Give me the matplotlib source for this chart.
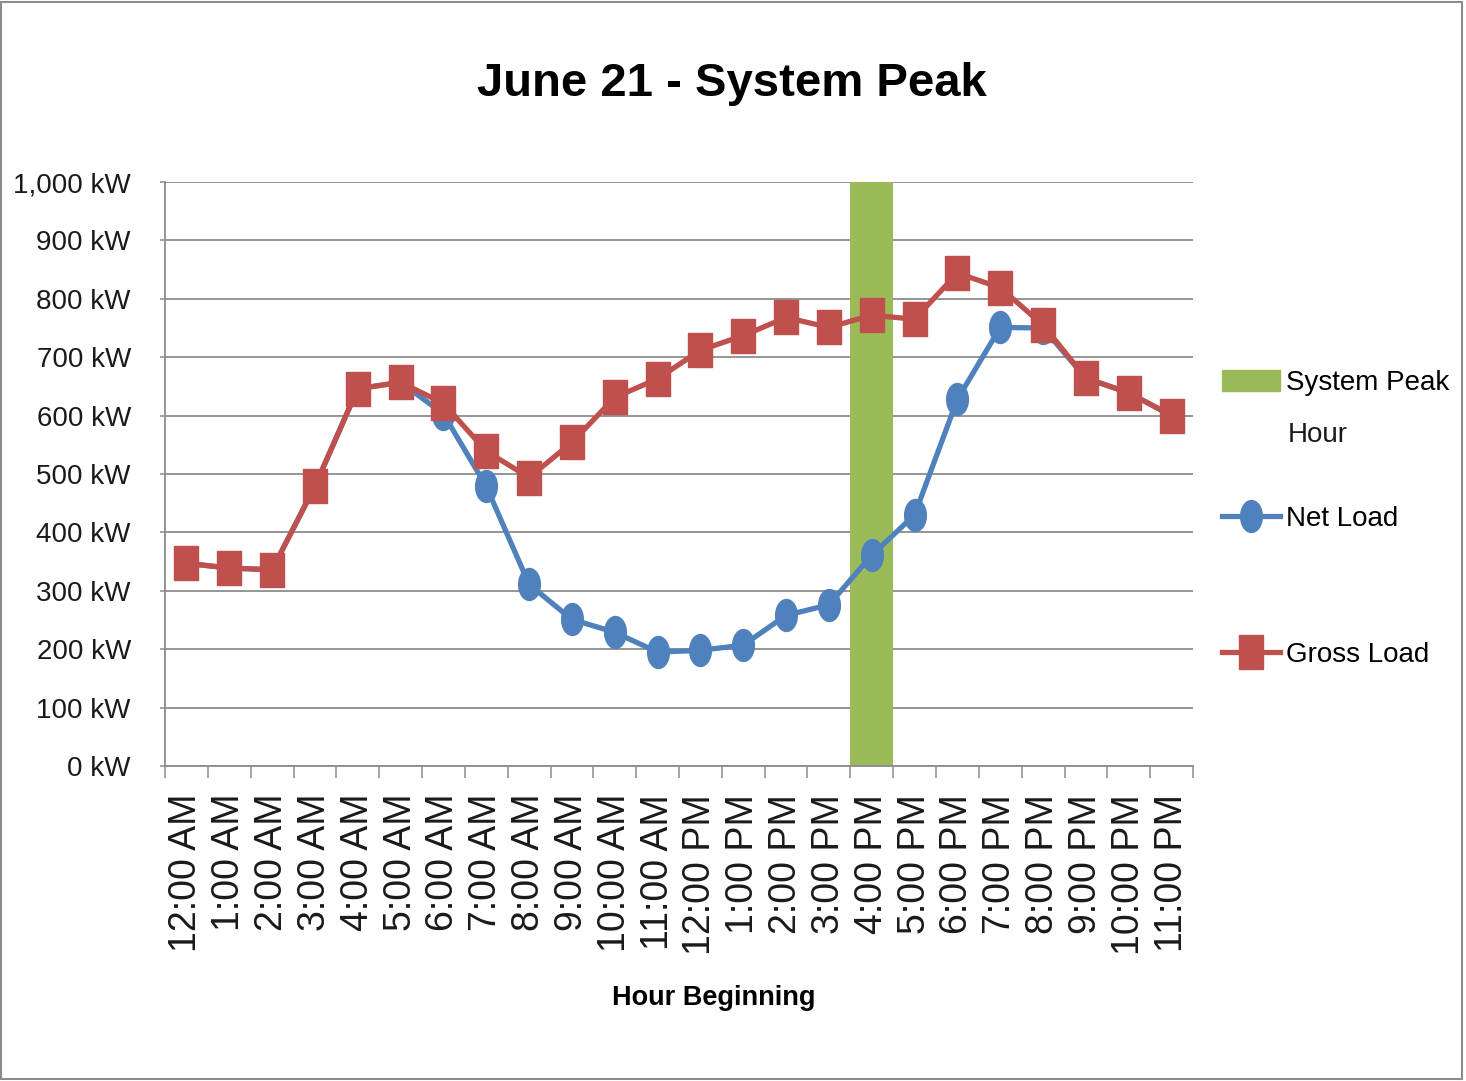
import matplotlib
matplotlib.use("Agg")
import matplotlib.pyplot as plt
from matplotlib.lines import Line2D
from matplotlib.patches import Patch, Rectangle
from matplotlib.path import Path
from matplotlib.transforms import Affine2D
from matplotlib.ticker import FixedLocator, FuncFormatter

hours = ["12:00 AM", "1:00 AM", "2:00 AM", "3:00 AM", "4:00 AM", "5:00 AM",
         "6:00 AM", "7:00 AM", "8:00 AM", "9:00 AM", "10:00 AM", "11:00 AM",
         "12:00 PM", "1:00 PM", "2:00 PM", "3:00 PM", "4:00 PM", "5:00 PM",
         "6:00 PM", "7:00 PM", "8:00 PM", "9:00 PM", "10:00 PM", "11:00 PM"]
gross_load = [347, 339, 336, 479, 646, 657, 621, 539, 494, 554, 631, 663,
              712, 737, 768, 751, 772, 765, 844, 819, 755, 664, 639, 600]
net_load = [347, 339, 336, 479, 646, 657, 603, 479, 311, 251, 229, 195,
            198, 207, 258, 276, 361, 430, 628, 751, 750, 664, 639, 600]
peak_hour = [0] * 16 + [1000] + [0] * 7
y_ticks = [0, 100, 200, 300, 400, 500, 600, 700, 800, 900, 1000]

FONT = "Liberation Sans"
RED = "#C0504D"
BLUE = "#4F81BD"
GREEN = "#9BBB59"
GRID = "#8C8C8C"
TXT = "#1a1a1a"

fig = plt.figure(figsize=(14.66, 10.81), dpi=100)
ax = fig.add_axes([165 / 1466, 1 - 766 / 1081, 1028 / 1466, 584 / 1081])

x = list(range(len(hours)))

circle = Path.unit_circle().transformed(Affine2D().scale(0.68, 1.0))
square = Path([(-0.7, -1), (0.7, -1), (0.7, 1), (-0.7, 1), (-0.7, -1)],
              [Path.MOVETO, Path.LINETO, Path.LINETO, Path.LINETO, Path.CLOSEPOLY])

ax.bar(x, peak_hour, width=1.0, color=GREEN, zorder=2)
ax.plot(x, net_load, color=BLUE, lw=3.8, marker=circle, markersize=23,
        markerfacecolor=BLUE, markeredgecolor=BLUE, zorder=3)
ax.plot(x, gross_load, color=RED, lw=3.8, marker=square, markersize=24,
        markerfacecolor=RED, markeredgecolor=RED, zorder=4)

ax.set_xlim(-0.5, len(hours) - 0.5)
ax.set_ylim(0, 1000)
ax.yaxis.set_major_locator(FixedLocator(y_ticks))
ax.yaxis.set_major_formatter(FuncFormatter(lambda v, p: f"{int(v):,} kW"))
ax.grid(axis="y", color=GRID, lw=1.3, zorder=1)
ax.set_axisbelow(True)

ax.set_xticks(x)
ax.set_xticklabels(hours, rotation=90, fontfamily=FONT, fontsize=27, color=TXT)
ax.set_xticks([i - 0.5 for i in range(len(hours) + 1)], minor=True)
ax.tick_params(axis="x", which="major", length=0, pad=20)
ax.tick_params(axis="x", which="minor", length=8.5, width=1.1, color=GRID, direction="out")
ax.tick_params(axis="y", length=3.5, width=1.1, color=GRID, pad=21)
for lab in ax.get_yticklabels():
    lab.set_fontfamily(FONT)
    lab.set_fontsize(20)
    lab.set_color(TXT)

for s in ["top", "right"]:
    ax.spines[s].set_visible(False)
for s in ["left", "bottom"]:
    ax.spines[s].set_color(GRID)
    ax.spines[s].set_linewidth(1.3)

fig.text(732 / 1466, 1 - 84 / 1081, "June 21 - System Peak", ha="center", va="center",
         fontfamily=FONT, fontweight="bold", fontsize=34, color="black")
fig.text(714 / 1466, 1 - 998 / 1081, "Hour Beginning", ha="center", va="center",
         fontfamily=FONT, fontweight="bold", fontsize=19.5, color="black")

# Legend entries
lx = 1222 / 1466
common = dict(loc="center left", bbox_transform=fig.transFigure, frameon=False,
              borderpad=0, borderaxespad=0, handlelength=2.1, handletextpad=0.2,
              prop={"family": FONT, "size": 20})
leg1 = ax.legend([Patch(color=GREEN)], ["System Peak"], bbox_to_anchor=(lx, 1 - 383 / 1081),
                 handleheight=0.8, **common)
ax.add_artist(leg1)
leg2 = ax.legend([Line2D([], [], color=BLUE, lw=3.8, marker=circle, markersize=23)],
                 ["Net Load"], bbox_to_anchor=(lx, 1 - 519 / 1081), numpoints=1, **common)
ax.add_artist(leg2)
leg3 = ax.legend([Line2D([], [], color=RED, lw=3.8, marker=square, markersize=24)],
                 ["Gross Load"], bbox_to_anchor=(lx, 1 - 655 / 1081), numpoints=1, **common)
fig.text(1288 / 1466, 1 - 435 / 1081, "Hour", ha="left", va="center",
         fontfamily=FONT, fontsize=20, color=TXT)

fig.patches.append(Rectangle((0.0005, 0.002), 0.997, 0.996, transform=fig.transFigure,
                             fill=False, edgecolor="#8C8C8C", lw=1.5))

fig.savefig("out.png", dpi=100)
